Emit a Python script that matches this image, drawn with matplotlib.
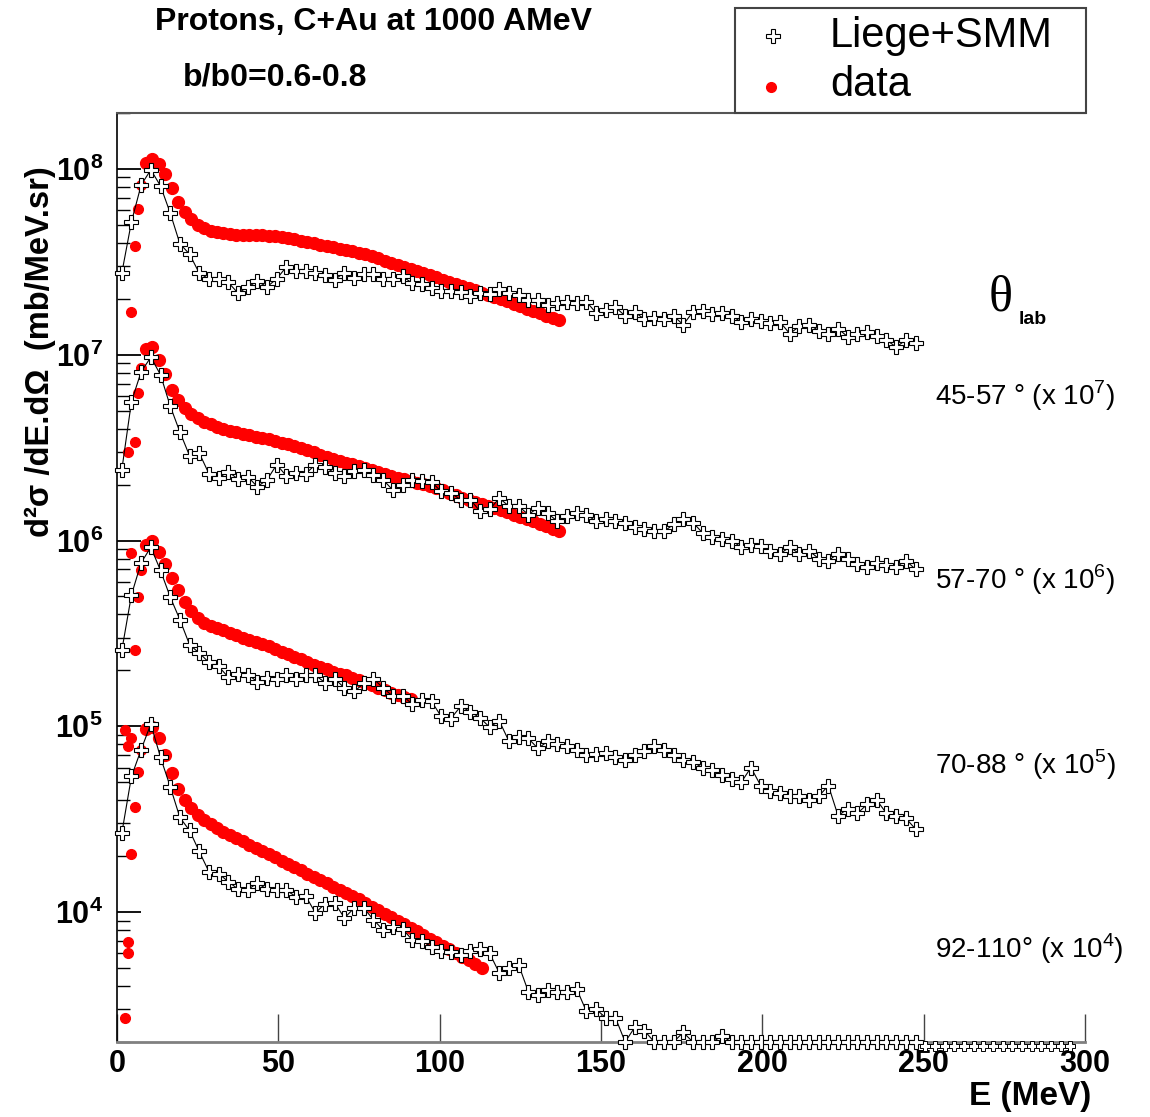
import numpy as np
import matplotlib
matplotlib.use('Agg')
import matplotlib.pyplot as plt
from matplotlib.lines import Line2D
from matplotlib.patches import Rectangle
from matplotlib.ticker import LogLocator, FixedLocator, FuncFormatter, NullFormatter

plt.rcParams['font.family'] = ['Liberation Sans', 'DejaVu Sans']
plt.rcParams['mathtext.fontset'] = 'custom'
plt.rcParams['mathtext.rm'] = 'Liberation Sans'
plt.rcParams['mathtext.bf'] = 'Liberation Sans:bold'

# angular bins and the factor each one is multiplied by
angle_labels = ['45-57 \u00b0 (x 10$^{7}$)', '57-70 \u00b0 (x 10$^{6}$)',
                '70-88 \u00b0 (x 10$^{5}$)', '92-110\u00b0 (x 10$^{4}$)']
scales = [1e7, 1e6, 1e5, 1e4]

# ---- Liege+SMM (histogram, 3 MeV bins) ----
e_smm = np.arange(1.5, 248, 3.0)
smm_45 = [2.75, 5.2, 8.2, 9.9, 8.1, 5.8, 3.96, 3.48, 2.75, 2.56,
          2.56, 2.45, 2.15, 2.31, 2.49, 2.32, 2.56, 2.97, 2.84, 2.84,
          2.75, 2.70, 2.54, 2.77, 2.59, 2.72, 2.72, 2.56, 2.56, 2.64,
          2.43, 2.40, 2.29, 2.19, 2.20, 2.17, 2.06, 2.15, 2.13, 2.26,
          2.15, 2.10, 1.98, 1.98, 1.86, 1.90, 1.93, 1.90, 1.93, 1.68,
          1.75, 1.80, 1.62, 1.70, 1.55, 1.58, 1.55, 1.62, 1.45, 1.70,
          1.72, 1.65, 1.68, 1.62, 1.50, 1.55, 1.52, 1.48, 1.50, 1.30,
          1.42, 1.45, 1.35, 1.30, 1.38, 1.25, 1.30, 1.32, 1.26, 1.20,
          1.10, 1.20, 1.15]
smm_57 = [2.4, 5.6, 8.1, 9.7, 7.8, 5.3, 3.84, 2.86, 2.96, 2.29,
          2.17, 2.35, 2.14, 2.21, 1.95, 2.12, 2.56, 2.23, 2.31, 2.29,
          2.56, 2.49, 2.31, 2.23, 2.38, 2.40, 2.26, 2.12, 1.87, 2.00,
          2.12, 2.08, 2.06, 1.84, 1.80, 1.66, 1.66, 1.44, 1.47, 1.69,
          1.53, 1.53, 1.38, 1.50, 1.40, 1.27, 1.36, 1.40, 1.38, 1.27,
          1.30, 1.28, 1.25, 1.18, 1.15, 1.12, 1.12, 1.22, 1.30, 1.25,
          1.10, 1.05, 1.02, 1.00, 0.92, 0.95, 0.93, 0.88, 0.85, 0.92,
          0.85, 0.88, 0.80, 0.78, 0.85, 0.80, 0.75, 0.72, 0.76, 0.74,
          0.72, 0.78, 0.70]
smm_70 = [2.56, 5.1, 7.6, 9.2, 6.9, 4.97, 3.75, 2.75, 2.48, 2.21,
          2.10, 1.84, 1.92, 1.90, 1.74, 1.82, 1.80, 1.90, 1.79, 1.90,
          1.88, 1.72, 1.80, 1.61, 1.54, 1.70, 1.80, 1.61, 1.45, 1.46,
          1.32, 1.39, 1.36, 1.13, 1.10, 1.28, 1.20, 1.11, 0.99, 1.07,
          0.83, 0.88, 0.86, 0.76, 0.83, 0.80, 0.78, 0.75, 0.70, 0.71,
          0.72, 0.68, 0.66, 0.70, 0.74, 0.78, 0.75, 0.70, 0.66, 0.64,
          0.60, 0.58, 0.55, 0.52, 0.50, 0.60, 0.48, 0.45, 0.44, 0.42,
          0.42, 0.40, 0.42, 0.48, 0.33, 0.36, 0.34, 0.38, 0.40, 0.34,
          0.33, 0.32, 0.28]
smm_92 = [2.66, 5.37, 7.5, 10.3, 6.8, 4.74, 3.23, 2.75, 2.12, 1.65,
          1.61, 1.46, 1.33, 1.32, 1.43, 1.33, 1.31, 1.31, 1.21, 1.22,
          0.99, 1.11, 1.12, 0.93, 1.05, 1.05, 0.91, 0.80, 0.83, 0.81,
          0.71, 0.70, 0.65, 0.62, 0.61, 0.59, 0.62, 0.63, 0.60, 0.47,
          0.50, 0.52, 0.373, 0.36, 0.38, 0.373, 0.373, 0.385, 0.292, 0.30,
          0.27, 0.27, 0.20, 0.24, 0.23, 0.20, 0.20, 0.20, 0.225, 0.20,
          0.20, 0.20, 0.215, 0.20, 0.20, 0.20, 0.20, 0.20, 0.20, 0.20,
          0.20, 0.20, 0.20, 0.20, 0.20, 0.20, 0.20, 0.20, 0.20, 0.20,
          0.20, 0.20, 0.20]
# bins of the last angle above 250 MeV, sitting just under the axis floor
e_smm_tail = np.arange(250.5, 296, 3.0)
smm_92_tail = [0.19, 0.19, 0.19, 0.19, 0.19, 0.19, 0.19, 0.19,
               0.19, 0.19, 0.19, 0.19, 0.19, 0.19, 0.19, 0.19]

# ---- data (1 MeV bins near threshold, then every 2 MeV) ----
e_low_45 = [4.5, 5.5, 6.5, 7.5]
low_45 = [1.69, 3.86, 6.1, 8.2]
e_low_57 = [3.5, 5.5, 6.5, 7.5]
low_57 = [2.98, 3.39, 6.2, 8.5]
e_low_70 = [4.5, 5.5, 6.5, 7.5]
low_70 = [8.6, 2.56, 4.97, 6.97]
e_low_92 = [2.5, 2.5, 3.5, 3.5, 3.5, 4.5, 4.5, 5.5, 6.5, 7.5]
low_92 = [9.6, 0.269, 7.8, 0.69, 0.60, 8.65, 2.06, 3.66, 5.65, 7.5]

e_band_45 = np.arange(9, 138, 2)
band_45 = [10.8, 11.3, 10.6, 9.4, 7.9, 6.6, 5.9, 5.4, 5.0, 4.8,
           4.65, 4.58, 4.52, 4.46, 4.43, 4.42, 4.41, 4.40, 4.39, 4.38,
           4.34, 4.30, 4.25, 4.18, 4.12, 4.05, 3.98, 3.92, 3.86, 3.80,
           3.73, 3.66, 3.60, 3.53, 3.47, 3.39, 3.30, 3.21, 3.13, 3.05,
           2.97, 2.89, 2.82, 2.75, 2.68, 2.61, 2.54, 2.47, 2.40, 2.34,
           2.28, 2.22, 2.16, 2.11, 2.05, 2.00, 1.94, 1.88, 1.82, 1.77,
           1.72, 1.67, 1.62, 1.57, 1.53]
e_band_57 = np.arange(9, 138, 2)
band_57 = [10.7, 11.0, 9.4, 7.9, 6.5, 5.7, 5.15, 4.8, 4.55, 4.35,
           4.22, 4.10, 4.0, 3.91, 3.83, 3.76, 3.69, 3.62, 3.56, 3.50,
           3.43, 3.36, 3.29, 3.21, 3.14, 3.06, 2.98, 2.90, 2.82, 2.75,
           2.69, 2.63, 2.57, 2.51, 2.46, 2.41, 2.35, 2.29, 2.23, 2.18,
           2.14, 2.09, 2.05, 2.01, 1.97, 1.92, 1.86, 1.80, 1.75, 1.69,
           1.65, 1.61, 1.57, 1.53, 1.49, 1.46, 1.42, 1.38, 1.34, 1.30,
           1.27, 1.23, 1.20, 1.16, 1.13]
e_band_70 = np.arange(9, 92, 2)
band_70 = [9.5, 9.9, 8.7, 7.5, 6.3, 5.4, 4.65, 4.15, 3.82, 3.62,
           3.48, 3.38, 3.29, 3.19, 3.10, 3.00, 2.91, 2.84, 2.77, 2.69,
           2.60, 2.52, 2.44, 2.37, 2.29, 2.22, 2.15, 2.09, 2.03, 1.97,
           1.92, 1.88, 1.83, 1.77, 1.72, 1.66, 1.61, 1.56, 1.51, 1.47,
           1.43, 1.40]
e_band_92 = np.arange(9, 114, 2)
band_92 = [9.7, 9.9, 8.7, 7.0, 5.6, 4.6, 4.0, 3.65, 3.35, 3.15,
           2.98, 2.82, 2.70, 2.60, 2.50, 2.40, 2.31, 2.22, 2.14, 2.06,
           1.97, 1.89, 1.81, 1.74, 1.68, 1.61, 1.55, 1.49, 1.43, 1.37,
           1.32, 1.27, 1.22, 1.17, 1.12, 1.07, 1.02, 0.98, 0.94, 0.90,
           0.86, 0.82, 0.79, 0.75, 0.72, 0.69, 0.66, 0.63, 0.60, 0.575,
           0.55, 0.525, 0.50]

smm_sets = [smm_45, smm_57, smm_70, smm_92]
data_sets = [(e_low_45, low_45, e_band_45, band_45),
             (e_low_57, low_57, e_band_57, band_57),
             (e_low_70, low_70, e_band_70, band_70),
             (e_low_92, low_92, e_band_92, band_92)]

fig = plt.figure(figsize=(11.5, 11.17), dpi=100)
ax = fig.add_axes([0.1017, 0.0672, 0.8417, 0.8316])

red = '#ff0000'
for i in range(4):
    s = scales[i]
    el, vl, eb, vb = data_sets[i]
    ax.plot(eb, np.array(vb) * s, 'o', color=red, ms=8.5, mec=red, zorder=2)
    ax.plot(el, np.array(vl) * s, 'o', color=red, ms=7, mec=red, zorder=2, clip_on=False)
    vs = np.array(smm_sets[i]) * s
    ax.plot(e_smm, vs, '-', color='black', lw=0.8, zorder=3, clip_on=False)
    ax.plot(e_smm, vs, 'P', mfc='white', mec='black', mew=0.8, ms=10,
            ls='none', zorder=4, clip_on=False)

ax.plot(e_smm_tail, np.array(smm_92_tail) * scales[3], 'P', mfc='white', mec='black',
        mew=0.7, ms=7, ls='none', zorder=4, clip_on=False)

ax.set_yscale('log')
ax.set_ylim(2e3, 2e8)
ax.set_xlim(0, 300)

ax.xaxis.set_major_locator(FixedLocator([0, 50, 100, 150, 200, 250, 300]))
ax.xaxis.set_minor_locator(FixedLocator([]))
ax.yaxis.set_major_locator(FixedLocator([1e4, 1e5, 1e6, 1e7, 1e8]))
ax.yaxis.set_major_formatter(FuncFormatter(lambda v, p: r'$\mathbf{10^{%d}}$' % round(np.log10(v))))
ax.yaxis.set_minor_locator(LogLocator(base=10, subs=np.arange(2, 10), numticks=20))
ax.yaxis.set_minor_formatter(NullFormatter())

ax.tick_params(axis='x', which='major', direction='in', length=20, width=1, color='#444444',
               labelsize=22, pad=5, top=False)
ax.tick_params(axis='y', which='major', direction='in', length=17, width=1.3, labelsize=22,
               pad=10, right=False)
ax.tick_params(axis='y', which='minor', direction='in', length=9, width=1, right=False)
for lab in ax.get_xticklabels():
    lab.set_fontweight('bold')

ax.spines['right'].set_visible(False)
ax.spines['top'].set_color('#555555')
ax.spines['top'].set_linewidth(1.5)
ax.spines['bottom'].set_color('#808080')
ax.spines['bottom'].set_linewidth(2)
ax.spines['left'].set_linewidth(1.2)

# axis titles
fig.text(0.035, 0.685, 'd\u00b2\u03c3 /dE.d\u03a9  (mb/MeV.sr)', rotation=90, ha='center',
         va='center', fontsize=23.5, fontweight='bold')
fig.text(0.896, 0.018, 'E (MeV)', ha='center', va='center', fontsize=24, fontweight='bold')

# header
fig.text(0.3245, 0.980, 'Protons, C+Au at 1000 AMeV', ha='center', va='center',
         fontsize=23, fontweight='bold')
fig.text(0.239, 0.931, 'b/b0=0.6-0.8', ha='center', va='center', fontsize=23, fontweight='bold')

# legend box
fig.add_artist(Rectangle((0.639, 0.8988), 0.305, 0.094, transform=fig.transFigure,
                         fill=False, ec='#444444', lw=1.5))
fig.add_artist(Line2D([0.672], [0.968], transform=fig.transFigure, marker='P', mfc='white',
                      mec='black', mew=0.8, ms=10))
fig.add_artist(Line2D([0.670], [0.922], transform=fig.transFigure, marker='o', color=red,
                      ms=7))
fig.text(0.7217, 0.968, 'Liege+SMM', ha='left', va='center', fontsize=30)
fig.text(0.7217, 0.924, 'data', ha='left', va='center', fontsize=30)

# angle annotations
fig.text(0.870, 0.733, '\u03b8', ha='center', va='center', fontsize=36, family='Liberation Serif')
fig.text(0.886, 0.714, 'lab', ha='left', va='center', fontsize=14, fontweight='bold')
label_y = [0.646, 0.481, 0.315, 0.151]
for txt, yy in zip(angle_labels, label_y):
    fig.text(0.813, yy, txt, ha='left', va='center', fontsize=20)

fig.savefig('out.png', dpi=100)
